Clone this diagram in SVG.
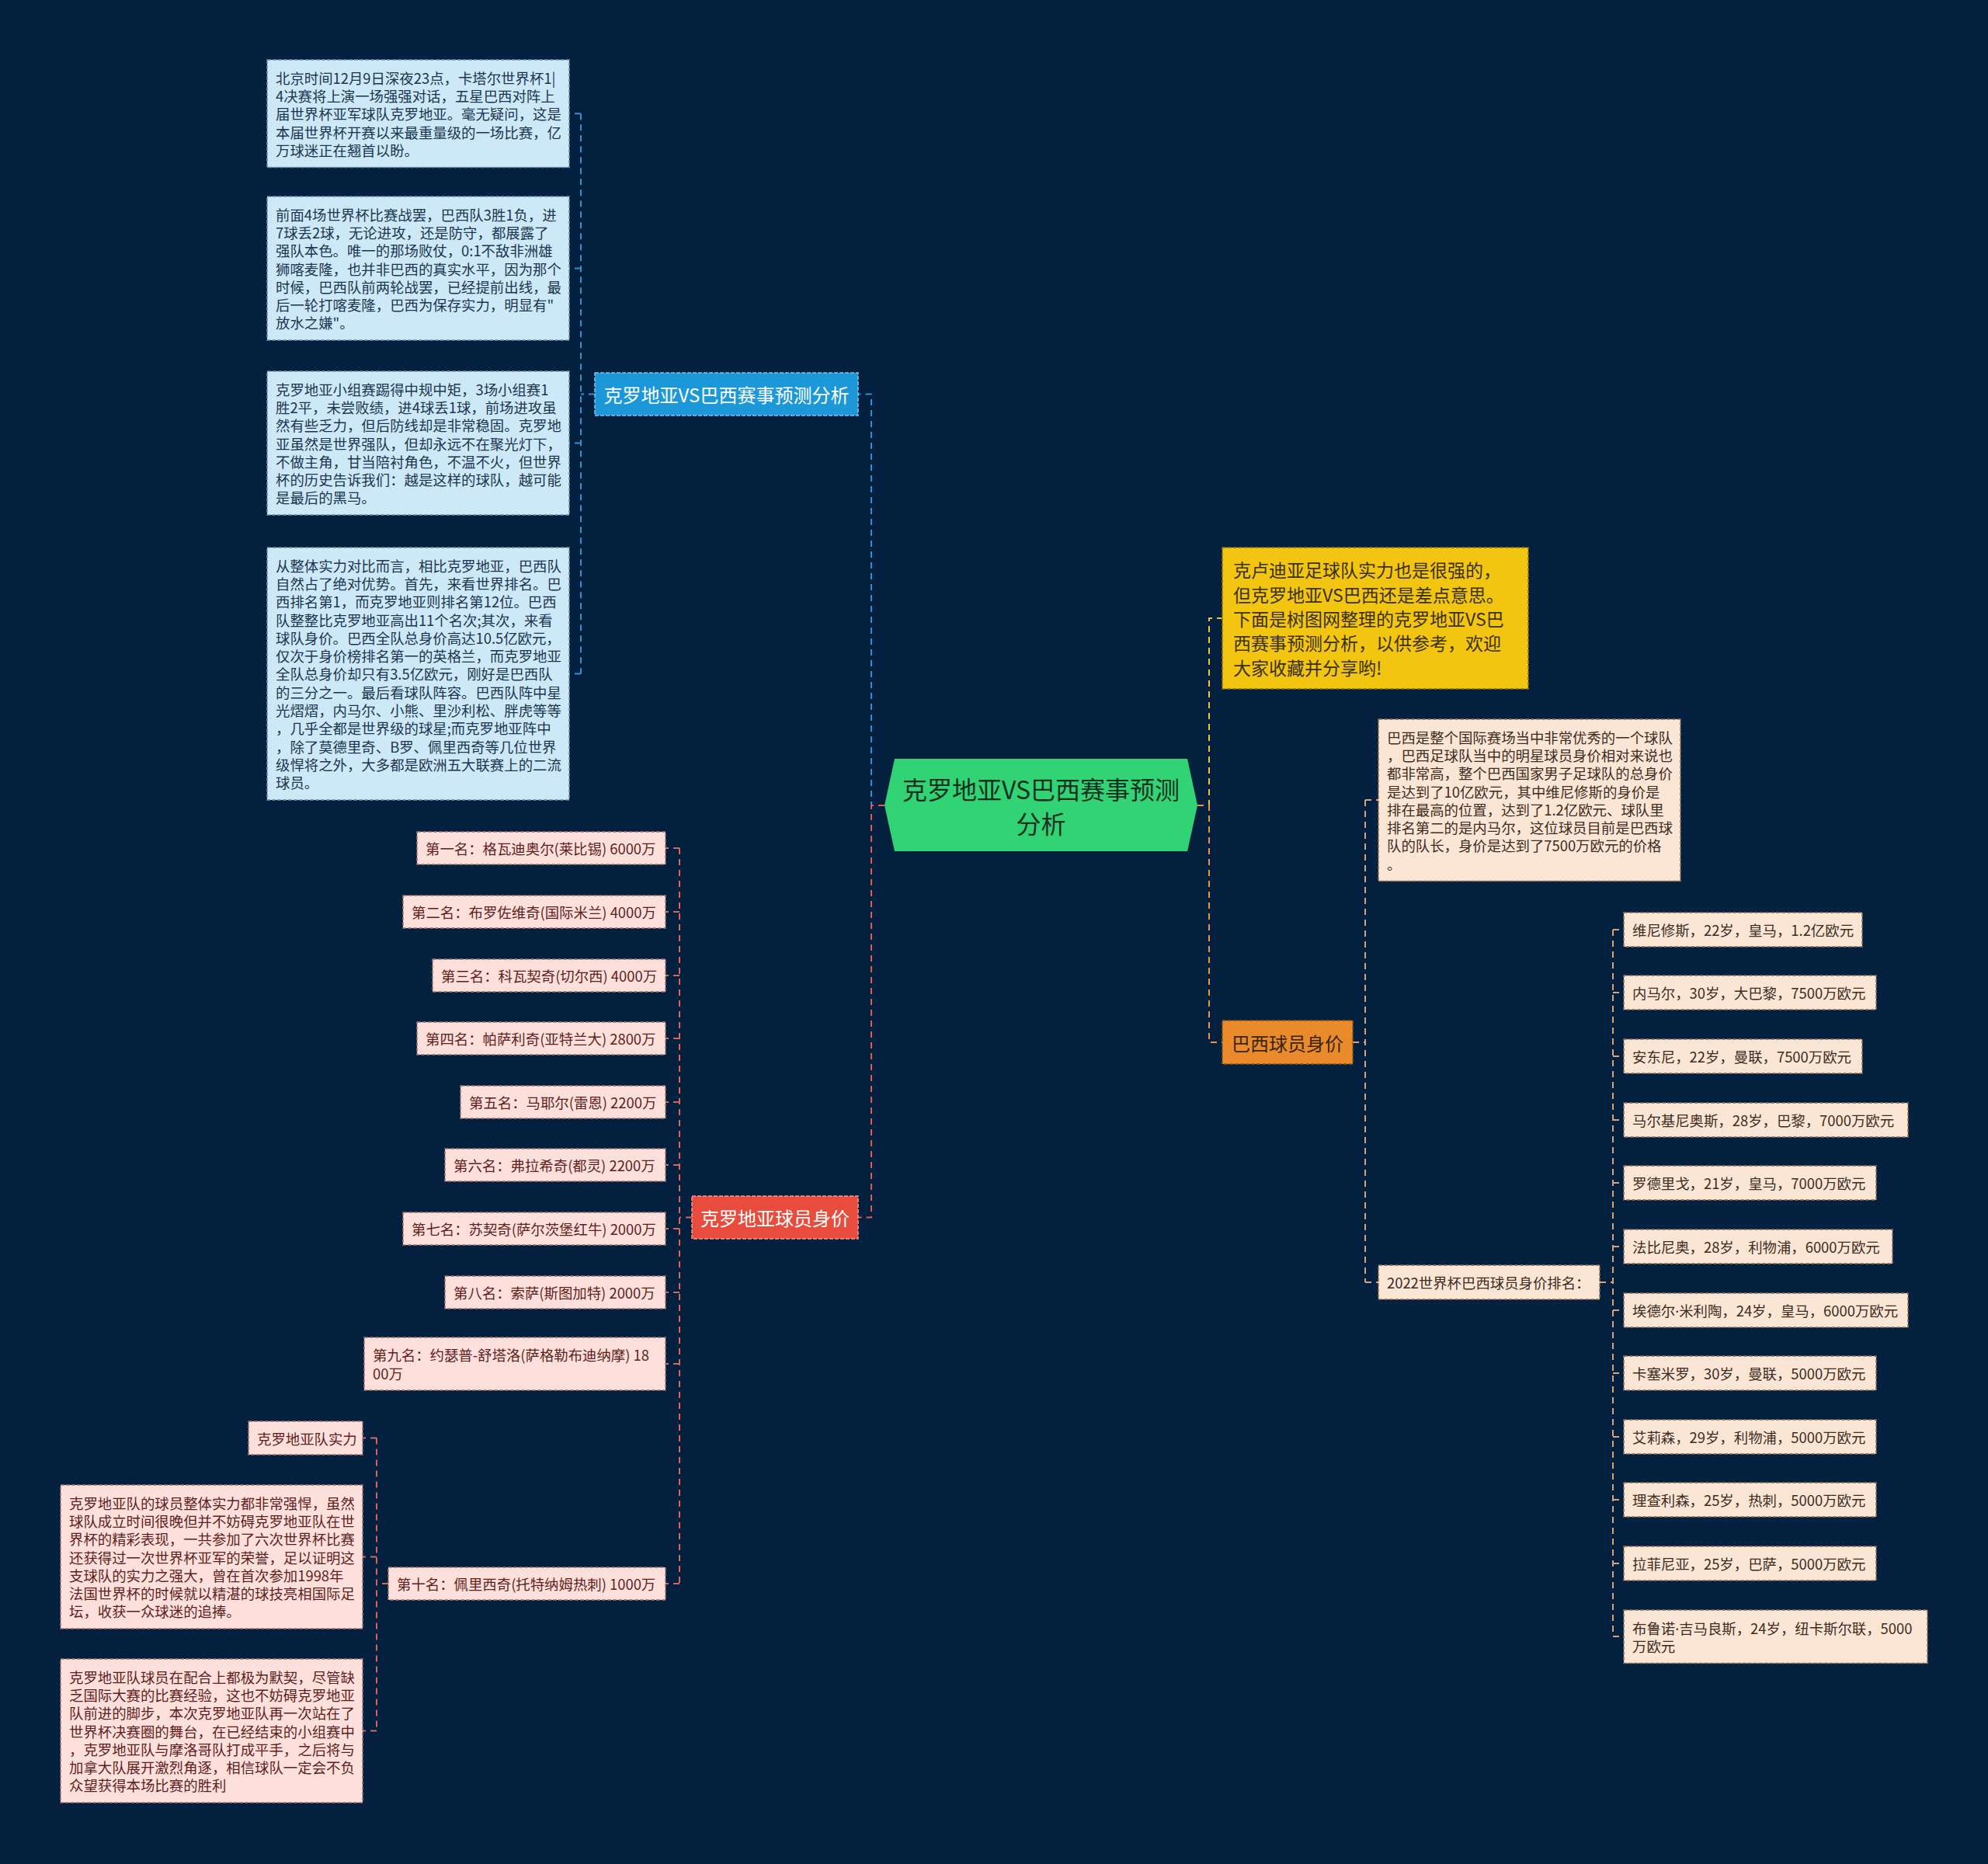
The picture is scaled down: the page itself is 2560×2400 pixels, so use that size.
<svg xmlns="http://www.w3.org/2000/svg" width="2560" height="2400" viewBox="0 0 2560 2400">
<style>
text{font-family:"Noto Sans CJK SC","Noto Sans",sans-serif;dominant-baseline:central}
.c{fill:none;stroke-width:2;stroke-dasharray:8 6}
.box{stroke-width:1.5;stroke-dasharray:5 2}
.lb{fill:#cde9f7;stroke:#6f8ea5}
.lbt{fill:#1c3550;font-size:18.4px}
.pe{fill:#fbe6d5;stroke:#8a6f5a}
.pet{fill:#3d2c1f;font-size:18.4px}
.pk{fill:#fde0dc;stroke:#9a7470}
.pkt{fill:#5e1f1c;font-size:18.4px}
.n1{font-size:24px}
.dot{font-family:"Noto Sans","DejaVu Sans",sans-serif}
</style>
<rect width="2560" height="2400" fill="#03203f"/>
<g id="connectors">
<path class="c" stroke="#2e8fd4" d="M1139 1037H1122V507.5H1105"/>
<path class="c" stroke="#e35a4d" d="M1139 1037H1122V1567.5H1105"/>
<path class="c" stroke="#eec23a" d="M1542 1037H1557V796H1574"/>
<path class="c" stroke="#e8954a" d="M1542 1037H1557V1342H1574"/>
<path class="c" stroke="#3b8fd0" d="M766 507.5H748M748 146.25V867.5M748 146.25H733M748 345.5H733M748 570.5H733M748 867.5H733"/>
<path class="c" stroke="#d9a27a" d="M1742 1342H1758M1758 1030V1651M1758 1030H1775M1758 1651H1775"/>
<path class="c" stroke="#d9a27a" d="M2060 1651H2077M2077 1197V2107M2077 1197H2091M2077 1278H2091M2077 1360H2091M2077 1442H2091M2077 1523H2091M2077 1605H2091M2077 1687H2091M2077 1768H2091M2077 1850H2091M2077 1931H2091M2077 2013H2091M2077 2107H2091"/>
<path class="c" stroke="#d8665c" d="M891 1567.5H875M875 1092V2039M875 1092H857M875 1174H857M875 1256H857M875 1337H857M875 1419H857M875 1500H857M875 1582H857M875 1664H857M875 1756H857M875 2039H857"/>
<path class="c" stroke="#d8665c" d="M500 2039H485M485 1851.5V2228.5M485 1851.5H467M485 2004.5H467M485 2228.5H467"/>
</g>
<g id="center">
<polygon points="1139,1037 1152,977 1529,977 1542,1037 1529,1096 1152,1096" fill="#32d374"/>
<text x="1340.5" y="1015" font-size="32" fill="#16301f" text-anchor="middle">克罗地亚VS巴西赛事预测</text>
<text x="1340.5" y="1059" font-size="32" fill="#16301f" text-anchor="middle">分析</text>
</g>
<g id="n-analysis">
<rect x="766" y="480" width="339" height="55" fill="#1c98d8" class="box" stroke="#7cc4ec"/>
<text x="935.5" y="507.5" class="n1" font-size="25" fill="#ffffff" text-anchor="middle">克罗地亚VS巴西赛事预测分析</text>
</g>
<g id="a1">
<rect x="344" y="77" width="389" height="138.5" class="box lb"/>
<text class="lbt" x="355" y="99.65">北京时间12月9日深夜23点，卡塔尔世界杯1|</text>
<text class="lbt" x="355" y="122.95">4决赛将上演一场强强对话，五星巴西对阵上</text>
<text class="lbt" x="355" y="146.25">届世界杯亚军球队克罗地亚。毫无疑问，这是</text>
<text class="lbt" x="355" y="169.55">本届世界杯开赛以来最重量级的一场比赛，亿</text>
<text class="lbt" x="355" y="192.85">万球迷正在翘首以盼。</text>
</g>
<g id="a2">
<rect x="344" y="253" width="389" height="185" class="box lb"/>
<text class="lbt" x="355" y="275.65">前面4场世界杯比赛战罢，巴西队3胜1负，进</text>
<text class="lbt" x="355" y="298.95">7球丢2球，无论进攻，还是防守，都展露了</text>
<text class="lbt" x="355" y="322.25">强队本色。唯一的那场败仗，0:1不敌非洲雄</text>
<text class="lbt" x="355" y="345.55">狮喀麦隆，也并非巴西的真实水平，因为那个</text>
<text class="lbt" x="355" y="368.85">时候，巴西队前两轮战罢，已经提前出线，最</text>
<text class="lbt" x="355" y="392.15">后一轮打喀麦隆，巴西为保存实力，明显有"</text>
<text class="lbt" x="355" y="415.45">放水之嫌"。</text>
</g>
<g id="a3">
<rect x="344" y="478" width="389" height="185" class="box lb"/>
<text class="lbt" x="355" y="500.65">克罗地亚小组赛踢得中规中矩，3场小组赛1</text>
<text class="lbt" x="355" y="523.95">胜2平，未尝败绩，进4球丢1球，前场进攻虽</text>
<text class="lbt" x="355" y="547.25">然有些乏力，但后防线却是非常稳固。克罗地</text>
<text class="lbt" x="355" y="570.55">亚虽然是世界强队，但却永远不在聚光灯下，</text>
<text class="lbt" x="355" y="593.85">不做主角，甘当陪衬角色，不温不火，但世界</text>
<text class="lbt" x="355" y="617.15">杯的历史告诉我们：越是这样的球队，越可能</text>
<text class="lbt" x="355" y="640.45">是最后的黑马。</text>
</g>
<g id="a4">
<rect x="344" y="705" width="389" height="325" class="box lb"/>
<text class="lbt" x="355" y="727.65">从整体实力对比而言，相比克罗地亚，巴西队</text>
<text class="lbt" x="355" y="750.95">自然占了绝对优势。首先，来看世界排名。巴</text>
<text class="lbt" x="355" y="774.25">西排名第1，而克罗地亚则排名第12位。巴西</text>
<text class="lbt" x="355" y="797.55">队整整比克罗地亚高出11个名次;其次，来看</text>
<text class="lbt" x="355" y="820.85">球队身价。巴西全队总身价高达10.5亿欧元，</text>
<text class="lbt" x="355" y="844.15">仅次于身价榜排名第一的英格兰，而克罗地亚</text>
<text class="lbt" x="355" y="867.45">全队总身价却只有3.5亿欧元，刚好是巴西队</text>
<text class="lbt" x="355" y="890.75">的三分之一。最后看球队阵容。巴西队阵中星</text>
<text class="lbt" x="355" y="914.05">光熠熠，内马尔、小熊、里沙利松、胖虎等等</text>
<text class="lbt" x="355" y="937.35">，几乎全都是世界级的球星;而克罗地亚阵中</text>
<text class="lbt" x="355" y="960.65">，除了莫德里奇、B罗、佩里西奇等几位世界</text>
<text class="lbt" x="355" y="983.95">级悍将之外，大多都是欧洲五大联赛上的二流</text>
<text class="lbt" x="355" y="1007.25">球员。</text>
</g>
<g id="n-intro">
<rect x="1574" y="705" width="394" height="182" fill="#f2c511" class="box" stroke="#8f7410"/>
<text x="1588" y="733.4" font-size="23" fill="#3b3010">克卢迪亚足球队实力也是很强的，</text>
<text x="1588" y="764.7" font-size="23" fill="#3b3010">但克罗地亚VS巴西还是差点意思。</text>
<text x="1588" y="796" font-size="23" fill="#3b3010">下面是树图网整理的克罗地亚VS巴</text>
<text x="1588" y="827.3" font-size="23" fill="#3b3010">西赛事预测分析，以供参考，欢迎</text>
<text x="1588" y="858.6" font-size="23" fill="#3b3010">大家收藏并分享哟!</text>
</g>
<g id="n-brazil">
<rect x="1574" y="1314" width="168" height="56" fill="#e98a2b" class="box" stroke="#8f5514"/>
<text x="1658" y="1342" class="n1" fill="#3a2410" text-anchor="middle">巴西球员身价</text>
</g>
<g id="b1">
<rect x="1775" y="926" width="389" height="208.4" class="box pe"/>
<text class="pet" x="1786" y="948.65">巴西是整个国际赛场当中非常优秀的一个球队</text>
<text class="pet" x="1786" y="971.95">，巴西足球队当中的明星球员身价相对来说也</text>
<text class="pet" x="1786" y="995.25">都非常高，整个巴西国家男子足球队的总身价</text>
<text class="pet" x="1786" y="1018.55">是达到了10亿欧元，其中维尼修斯的身价是</text>
<text class="pet" x="1786" y="1041.85">排在最高的位置，达到了1.2亿欧元、球队里</text>
<text class="pet" x="1786" y="1065.15">排名第二的是内马尔，这位球员目前是巴西球</text>
<text class="pet" x="1786" y="1088.45">队的队长，身价是达到了7500万欧元的价格</text>
<text class="pet" x="1786" y="1111.75">。</text>
</g>
<g id="b2">
<rect x="1775" y="1629" width="285" height="44" class="box pe"/>
<text class="pet" x="1786" y="1651">2022世界杯巴西球员身价排名：</text>
</g>
<g id="p1"><rect x="2091" y="1175" width="307" height="44" class="box pe"/><text class="pet" x="2102" y="1197">维尼修斯，22岁，皇马，1.2亿欧元</text></g>
<g id="p2"><rect x="2091" y="1256" width="325" height="44" class="box pe"/><text class="pet" x="2102" y="1278">内马尔，30岁，大巴黎，7500万欧元</text></g>
<g id="p3"><rect x="2091" y="1338" width="307" height="44" class="box pe"/><text class="pet" x="2102" y="1360">安东尼，22岁，曼联，7500万欧元</text></g>
<g id="p4"><rect x="2091" y="1420" width="366" height="44" class="box pe"/><text class="pet" x="2102" y="1442">马尔基尼奥斯，28岁，巴黎，7000万欧元</text></g>
<g id="p5"><rect x="2091" y="1501" width="325" height="44" class="box pe"/><text class="pet" x="2102" y="1523">罗德里戈，21岁，皇马，7000万欧元</text></g>
<g id="p6"><rect x="2091" y="1583" width="346" height="44" class="box pe"/><text class="pet" x="2102" y="1605">法比尼奥，28岁，利物浦，6000万欧元</text></g>
<g id="p7"><rect x="2091" y="1665" width="366" height="44" class="box pe"/><text class="pet" x="2102" y="1687">埃德尔<tspan class="dot">·</tspan>米利陶，24岁，皇马，6000万欧元</text></g>
<g id="p8"><rect x="2091" y="1746" width="325" height="44" class="box pe"/><text class="pet" x="2102" y="1768">卡塞米罗，30岁，曼联，5000万欧元</text></g>
<g id="p9"><rect x="2091" y="1828" width="325" height="44" class="box pe"/><text class="pet" x="2102" y="1850">艾莉森，29岁，利物浦，5000万欧元</text></g>
<g id="p10"><rect x="2091" y="1909" width="325" height="44" class="box pe"/><text class="pet" x="2102" y="1931">理查利森，25岁，热刺，5000万欧元</text></g>
<g id="p11"><rect x="2091" y="1991" width="325" height="44" class="box pe"/><text class="pet" x="2102" y="2013">拉菲尼亚，25岁，巴萨，5000万欧元</text></g>
<g id="p12"><rect x="2091" y="2073" width="391" height="68.6" class="box pe"/><text class="pet" x="2102" y="2095.65">布鲁诺<tspan class="dot">·</tspan>吉马良斯，24岁，纽卡斯尔联，5000</text><text class="pet" x="2102" y="2118.95">万欧元</text></g>
<g id="n-croatia">
<rect x="891" y="1540" width="214" height="55" fill="#e74c3c" class="box" stroke="#f39a8f"/>
<text x="998" y="1567.5" class="n1" fill="#ffffff" text-anchor="middle">克罗地亚球员身价</text>
</g>
<g id="r1"><rect x="537" y="1071" width="320" height="42" class="box pk"/><text class="pkt" x="548" y="1092">第一名：格瓦迪奥尔(莱比锡) 6000万</text></g>
<g id="r2"><rect x="519" y="1153" width="338" height="42" class="box pk"/><text class="pkt" x="530" y="1174">第二名：布罗佐维奇(国际米兰) 4000万</text></g>
<g id="r3"><rect x="557" y="1235" width="300" height="42" class="box pk"/><text class="pkt" x="568" y="1256">第三名：科瓦契奇(切尔西) 4000万</text></g>
<g id="r4"><rect x="537" y="1316" width="320" height="42" class="box pk"/><text class="pkt" x="548" y="1337">第四名：帕萨利奇(亚特兰大) 2800万</text></g>
<g id="r5"><rect x="593" y="1398" width="264" height="42" class="box pk"/><text class="pkt" x="604" y="1419">第五名：马耶尔(雷恩) 2200万</text></g>
<g id="r6"><rect x="573" y="1479" width="284" height="42" class="box pk"/><text class="pkt" x="584" y="1500">第六名：弗拉希奇(都灵) 2200万</text></g>
<g id="r7"><rect x="519" y="1561" width="338" height="42" class="box pk"/><text class="pkt" x="530" y="1582">第七名：苏契奇(萨尔茨堡红牛) 2000万</text></g>
<g id="r8"><rect x="573" y="1643" width="284" height="42" class="box pk"/><text class="pkt" x="584" y="1664">第八名：索萨(斯图加特) 2000万</text></g>
<g id="r9"><rect x="469" y="1722" width="388" height="68" class="box pk"/><text class="pkt" x="480" y="1744.35">第九名：约瑟普-舒塔洛(萨格勒布迪纳摩) 18</text><text class="pkt" x="480" y="1767.65">00万</text></g>
<g id="r10"><rect x="500" y="2018" width="357" height="42" class="box pk"/><text class="pkt" x="511" y="2039">第十名：佩里西奇(托特纳姆热刺) 1000万</text></g>
<g id="c1"><rect x="320" y="1830" width="147" height="43" class="box pk"/><text class="pkt" x="331" y="1851.5">克罗地亚队实力</text></g>
<g id="c2">
<rect x="78" y="1912" width="389" height="185" class="box pk"/>
<text class="pkt" x="89" y="1934.65">克罗地亚队的球员整体实力都非常强悍，虽然</text>
<text class="pkt" x="89" y="1957.95">球队成立时间很晚但并不妨碍克罗地亚队在世</text>
<text class="pkt" x="89" y="1981.25">界杯的精彩表现，一共参加了六次世界杯比赛</text>
<text class="pkt" x="89" y="2004.55">还获得过一次世界杯亚军的荣誉，足以证明这</text>
<text class="pkt" x="89" y="2027.85">支球队的实力之强大，曾在首次参加1998年</text>
<text class="pkt" x="89" y="2051.15">法国世界杯的时候就以精湛的球技亮相国际足</text>
<text class="pkt" x="89" y="2074.45">坛，收获一众球迷的追捧。</text>
</g>
<g id="c3">
<rect x="78" y="2136" width="389" height="185" class="box pk"/>
<text class="pkt" x="89" y="2158.65">克罗地亚队球员在配合上都极为默契，尽管缺</text>
<text class="pkt" x="89" y="2181.95">乏国际大赛的比赛经验，这也不妨碍克罗地亚</text>
<text class="pkt" x="89" y="2205.25">队前进的脚步，本次克罗地亚队再一次站在了</text>
<text class="pkt" x="89" y="2228.55">世界杯决赛圈的舞台，在已经结束的小组赛中</text>
<text class="pkt" x="89" y="2251.85">，克罗地亚队与摩洛哥队打成平手，之后将与</text>
<text class="pkt" x="89" y="2275.15">加拿大队展开激烈角逐，相信球队一定会不负</text>
<text class="pkt" x="89" y="2298.45">众望获得本场比赛的胜利</text>
</g>
</svg>
